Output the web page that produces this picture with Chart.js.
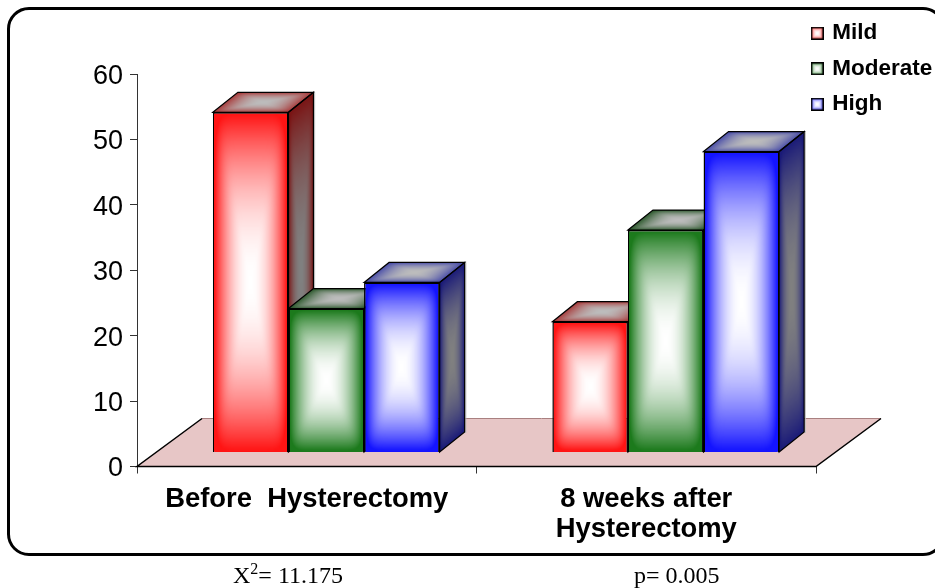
<!DOCTYPE html>
<html lang="en">
<head>
  <meta charset="UTF-8">
  <title>Before and after hysterectomy</title>
  <script src="https://cdn.jsdelivr.net/npm/chart.js"></script>
  <style>
    html, body { margin: 0; background: #fff; overflow: hidden; }
    #wrap { position: relative; width: 935px; height: 588px; overflow: hidden; }
    #frame { position: absolute; left: 7px; top: 7px; width: 932px; height: 543px;
      border: 3.5px solid #000; border-radius: 22px; }
    canvas { position: absolute; left: 0; top: 0; }
    .note { position: absolute; top: 562px; font: 24px 'Liberation Serif', serif; color: #000; white-space: nowrap; }
    .note sup { font-size: 16px; line-height: 0; }
  </style>
</head>
<body>
<div id="wrap">
  <div id="frame"></div>
  <canvas id="grafica" width="935" height="588"></canvas>
  <div class="note" style="left:233px">X<sup>2</sup>= 11.175</div>
  <div class="note" style="left:634px">p= 0.005</div>
</div>

<script>
const categories = ["Before  Hysterectomy", ["8 weeks after", "Hysterectomy"]];
const mild = [52, 20];
const moderate = [22, 34];
const high = [26, 46];

// [front, side, top] edge colours for each series
const red = ["#ff1414", "#7a1414", "#a83c3c"];
const green = ["#1c7a1c", "#1c4a1c", "#2f5a2f"];
const blue = ["#1414ff", "#1a1a78", "#4a4ea8"];

const BAR_SHIFT = { x: 19.5, y: -14 };
const BAR_DEPTH = { x: 25, y: -20 };
const FLOOR_DEPTH = { x: 65, y: -48 };

function hexRgb(h) {
  return [1, 3, 5].map(i => parseInt(h.substr(i, 2), 16));
}

// rectangular "from centre" shading, stretched to each face when drawn
function faceCanvas(edge, centre, size) {
  const c = document.createElement("canvas");
  c.width = c.height = size;
  const g = c.getContext("2d");
  const img = g.createImageData(size, size);
  const a = hexRgb(edge), b = hexRgb(centre);
  for (let y = 0; y < size; y++) {
    for (let x = 0; x < size; x++) {
      const u = Math.abs((x + 0.5) / size * 2 - 1), v = Math.abs((y + 0.5) / size * 2 - 1);
      const t = Math.pow(Math.pow(u, 8) + Math.pow(v, 8), 1 / 8);
      const k = Math.min(1, t * t);
      const p = (y * size + x) * 4;
      for (let i = 0; i < 3; i++) img.data[p + i] = b[i] + (a[i] - b[i]) * k;
      img.data[p + 3] = 255;
    }
  }
  g.putImageData(img, 0, 0);
  return c;
}

function swatch(edge) {
  const c = faceCanvas(edge, "#ffffff", 13);
  const g = c.getContext("2d");
  g.strokeStyle = "#000";
  g.lineWidth = 1.5;
  g.strokeRect(0.75, 0.75, 11.5, 11.5);
  return c;
}

function makeFaces(cols) {
  return {
    front: faceCanvas(cols[0], "#ffffff", 128),
    side: faceCanvas(cols[1], "#808080", 128),
    top: faceCanvas(cols[2], "#bcbcbc", 128)
  };
}

const faces = [makeFaces(red), makeFaces(green), makeFaces(blue)];
const swatches = [swatch(red[0]), swatch(green[0]), swatch(blue[0])];

function outline(ctx, pts, open) {
  ctx.beginPath();
  pts.forEach((p, i) => i ? ctx.lineTo(p[0], p[1]) : ctx.moveTo(p[0], p[1]));
  if (!open) ctx.closePath();
}

const bars3d = {
  id: "bars3d",
  afterLayout(chart) {
    // the legend sits inside the frame, over the plot corner
    const lg = chart.legend;
    lg.left = 800.5; lg.right = 935; lg.top = 9; lg.bottom = 300;
    // y labels sit a little under their tick
    chart.scales.y.getLabelItems().forEach(it => { it.options.translation[1] += 2.5; });
  },
  beforeDatasetsDraw(chart) {
    const ctx = chart.ctx, a = chart.chartArea;
    const bl = [a.left + FLOOR_DEPTH.x, a.bottom + FLOOR_DEPTH.y], br = [a.right + FLOOR_DEPTH.x, a.bottom + FLOOR_DEPTH.y];

    ctx.save();
    outline(ctx, [[a.left, a.bottom], [a.right, a.bottom], br, bl]);
    ctx.fillStyle = "#e7c6c6";
    ctx.fill();
    ctx.strokeStyle = "#a98080";
    ctx.lineWidth = 1;
    outline(ctx, [bl, br], true);
    ctx.stroke();
    ctx.strokeStyle = "#000";
    ctx.lineWidth = 1.5;
    outline(ctx, [bl, [a.left, a.bottom], [a.right, a.bottom], br], true);
    ctx.stroke();
    ctx.restore();

    ctx.save();
    ctx.translate(BAR_SHIFT.x, BAR_SHIFT.y);
    chart.data.datasets.forEach((ds, i) => {
      const meta = chart.getDatasetMeta(i);
      meta.data.forEach(el => {
        const x0 = el.x - el.width / 2, x1 = el.x + el.width / 2, top = el.y, base = el.base;

        ctx.save();
        ctx.transform(BAR_DEPTH.x / 128, BAR_DEPTH.y / 128, 0, (base - top) / 128, x1, top);
        ctx.drawImage(faces[i].side, 0, 0);
        ctx.restore();

        ctx.save();
        ctx.transform(el.width / 128, 0, BAR_DEPTH.x / 128, BAR_DEPTH.y / 128, x0, top);
        ctx.drawImage(faces[i].top, 0, 0);
        ctx.restore();

        ctx.strokeStyle = "#bdbdbd";
        ctx.lineWidth = 1;
        outline(ctx, [[x1 + BAR_DEPTH.x + 1.2, top + BAR_DEPTH.y], [x1 + BAR_DEPTH.x + 1.2, base + BAR_DEPTH.y + 1]], true);
        ctx.stroke();

        ctx.strokeStyle = "#000";
        ctx.lineWidth = 1.2;
        outline(ctx, [[x1, top], [x1 + BAR_DEPTH.x, top + BAR_DEPTH.y],
          [x1 + BAR_DEPTH.x, base + BAR_DEPTH.y], [x1, base]]);
        ctx.stroke();
        outline(ctx, [[x0, top], [x0 + BAR_DEPTH.x, top + BAR_DEPTH.y],
          [x1 + BAR_DEPTH.x, top + BAR_DEPTH.y], [x1, top]]);
        ctx.stroke();
      });

      meta.controller.draw();

      meta.data.forEach(el => {
        const bw = el.options.borderWidth;
        ctx.drawImage(faces[i].front, el.x - el.width / 2 + bw, el.y + bw,
          el.width - 2 * bw, el.base - el.y - 2 * bw);
      });
    });
    ctx.restore();
    return false;
  }
};

new Chart(document.getElementById("grafica"), {
  type: "bar",
  data: {
    labels: categories,
    datasets: [
      { label: "Mild", data: mild, backgroundColor: red[0] },
      { label: "Moderate", data: moderate, backgroundColor: green[0] },
      { label: "High", data: high, backgroundColor: blue[0] }
    ]
  },
  plugins: [bars3d],
  options: {
    responsive: false,
    animation: false,
    layout: { padding: { top: 74, right: 119, left: 0, bottom: 0 } },
    datasets: { bar: { categoryPercentage: 0.668, barPercentage: 1, borderWidth: 1.5, borderColor: "#000" } },
    plugins: {
      tooltip: { enabled: false },
      legend: {
        position: "chartArea",
        align: "start",
        labels: {
          color: "#000",
          font: { family: "'Liberation Sans', sans-serif", size: 22.5, weight: "bold" },
          usePointStyle: true,
          boxWidth: 7.5,
          boxHeight: 7.5,
          padding: 13,
          generateLabels(chart) {
            return chart.data.datasets.map((ds, i) => ({
              text: ds.label, pointStyle: swatches[i], datasetIndex: i, fontColor: "#000", lineWidth: 0
            }));
          }
        }
      }
    },
    scales: {
      x: {
        afterFit(s) { s.height = 121.5; },
        grid: { drawOnChartArea: false, tickLength: 7, tickColor: "#333" },
        border: { color: "#333" },
        ticks: {
          color: "#000",
          maxRotation: 0,
          autoSkip: false,
          padding: 11,
          font: { family: "'Liberation Sans', sans-serif", size: 27.4, weight: "bold", lineHeight: 1.1 }
        }
      },
      y: {
        min: 0,
        max: 60,
        afterFit(s) { s.width = 137; },
        grid: { drawOnChartArea: false, tickLength: 7, tickColor: "#333" },
        border: { color: "#333" },
        ticks: {
          stepSize: 10,
          color: "#000",
          padding: 7,
          font: { family: "'Liberation Sans', sans-serif", size: 27 }
        }
      }
    }
  }
});
</script>
</body>
</html>
